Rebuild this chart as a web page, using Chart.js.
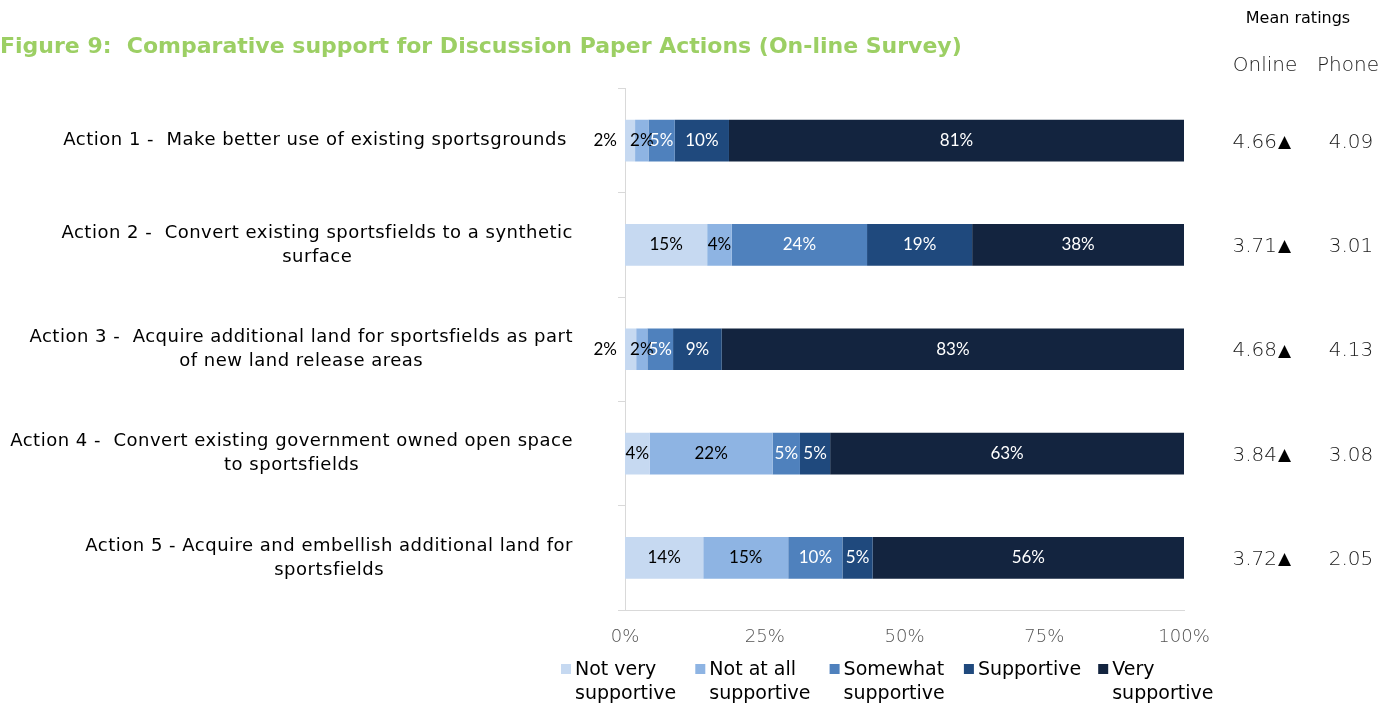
<!DOCTYPE html>
<html><head><meta charset="utf-8">
<script src="https://cdn.jsdelivr.net/npm/chart.js@4.4.0/dist/chart.umd.min.js"></script>
<style>html,body{margin:0;padding:0;background:#fff;overflow:hidden}#wrap{position:relative;width:1395px;height:706px}</style>
</head><body><div id="wrap"><canvas id="c" width="1395" height="706"></canvas></div>
<script>
const categories = [
  ['Action 1 -  Make better use of existing sportsgrounds '],
  ['Action 2 -  Convert existing sportsfields to a synthetic', 'surface'],
  ['Action 3 -  Acquire additional land for sportsfields as part', 'of new land release areas'],
  ['Action 4 -  Convert existing government owned open space', 'to sportsfields'],
  ['Action 5 - Acquire and embellish additional land for', 'sportsfields']
];
const seriesNames = [['Not very', 'supportive'], ['Not at all', 'supportive'], ['Somewhat', 'supportive'], ['Supportive'], ['Very', 'supportive']];
const notVery = [1.8, 14.7, 2.0, 4.4, 14.0];
const notAtAll = [2.4, 4.4, 2.0, 22.0, 15.2];
const somewhat = [4.7, 24.2, 4.6, 4.9, 9.7];
const supportive = [9.7, 18.8, 8.7, 5.4, 5.4];
const verySupportive = [81.4, 37.9, 82.7, 63.3, 55.7];
const xTicks = [0, 25, 50, 75, 100];
const meanOnline = ['4.66', '3.71', '4.68', '3.84', '3.72'];
const meanPhone = ['4.09', '3.01', '4.13', '3.08', '2.05'];
const titleText = 'Figure 9:  Comparative support for Discussion Paper Actions (On-line Survey)';

const colors = ['#c6d9f1', '#8eb4e3', '#4f81bd', '#1f497d', '#13243f'];
const labelColors = ['#000', '#000', '#fff', '#fff', '#fff'];
const seriesData = [notVery, notAtAll, somewhat, supportive, verySupportive];

const SANS = '"DejaVu Sans", sans-serif';
const LIGHT = '200 20px "DejaVu Sans", sans-serif';

const decor = {
  id: 'decor',
  afterDraw(chart) {
    const ctx = chart.ctx;
    const y = chart.scales.y;
    ctx.save();
    // title
    ctx.fillStyle = '#9ccf64';
    ctx.font = 'bold 22px ' + SANS;
    ctx.textAlign = 'left';
    ctx.textBaseline = 'middle';
    ctx.fillText(titleText, 0, 47);
    // category labels
    ctx.fillStyle = '#000';
    ctx.font = '18px ' + SANS;
    try { ctx.letterSpacing = '0.5px'; } catch (e) {}
    categories.forEach((lines, i) => {
      const cy = y.getPixelForValue(i);
      const lh = 24;
      const widths = lines.map(l => ctx.measureText(l).width);
      const maxW = Math.max(...widths);
      const right = 573;
      const cx = right - maxW / 2;
      ctx.textAlign = 'center';
      lines.forEach((l, k) => {
        const ly = cy + (k - (lines.length - 1) / 2) * lh;
        ctx.fillText(l, cx, ly);
      });
    });
    try { ctx.letterSpacing = '0px'; } catch (e) {}
    // mean ratings
    ctx.textAlign = 'center';
    ctx.fillStyle = '#000';
    ctx.font = '16px ' + SANS;
    ctx.fillText('Mean ratings', 1298, 19);
    ctx.fillStyle = '#1a1a1a';
    ctx.font = LIGHT;
    ctx.fillText('Online', 1265, 66);
    ctx.fillText('Phone', 1348, 66);
    meanOnline.forEach((v, i) => {
      const cy = y.getPixelForValue(i) + 2;
      ctx.fillStyle = '#1a1a1a';
      ctx.font = LIGHT;
      ctx.textAlign = 'right';
      ctx.fillText(v, 1277, cy);
      ctx.fillStyle = '#000';
      ctx.font = '17px ' + SANS;
      ctx.textAlign = 'left';
      ctx.fillText('\u25B2', 1278, cy);
      ctx.fillStyle = '#1a1a1a';
      ctx.font = LIGHT;
      ctx.textAlign = 'center';
      ctx.fillText(meanPhone[i], 1351, cy);
    });
    // legend
    ctx.font = '19px ' + SANS;
    ctx.textAlign = 'left';
    seriesNames.forEach((lines, i) => {
      const x0 = 561 + i * 134.3;
      ctx.fillStyle = colors[i];
      ctx.fillRect(x0, 664, 10, 10);
      ctx.fillStyle = '#000';
      lines.forEach((l, k) => ctx.fillText(l, x0 + 14, 670 + k * 24));
    });
    // value labels
    ctx.font = '17px Lato, sans-serif';
    ctx.textBaseline = 'middle';
    chart.data.datasets.forEach((ds, di) => {
      const meta = chart.getDatasetMeta(di);
      meta.data.forEach((bar, i) => {
        const v = ds.data[i];
        const txt = Math.round(v) + '%';
        if (di === 0 && v < 3) {
          ctx.fillStyle = '#000';
          ctx.textAlign = 'right';
          ctx.fillText(txt, bar.base - 8, bar.y);
        } else {
          ctx.fillStyle = labelColors[di];
          ctx.textAlign = 'center';
          ctx.fillText(txt, (bar.x + bar.base) / 2, bar.y);
        }
      });
    });
    ctx.restore();
  }
};

new Chart(document.getElementById('c'), {
  type: 'bar',
  data: {
    labels: categories.map(c => c.join(' ')),
    datasets: seriesData.map((d, i) => ({
      label: seriesNames[i].join(' '),
      data: d,
      backgroundColor: colors[i],
      borderWidth: 0,
      categoryPercentage: 1,
      barPercentage: 0.4
    }))
  },
  options: {
    indexAxis: 'y',
    responsive: false,
    animation: false,
    events: [],
    layout: { padding: { top: 88.5, right: 211, left: 0, bottom: 0 } },
    plugins: { legend: { display: false }, title: { display: false }, tooltip: { enabled: false } },
    scales: {
      x: {
        stacked: true, min: 0, max: 100,
        afterBuildTicks(s) { s.ticks = xTicks.map(v => ({ value: v })); },
        afterFit(s) { s.height = 96; },
        grid: { display: false, drawTicks: false },
        border: { display: true, color: '#d9d9d9', width: 1 },
        ticks: { padding: 17, color: '#555555', font: { size: 18, family: '"DejaVu Sans"', weight: '200' }, callback: v => v + '%' }
      },
      y: {
        stacked: true,
        afterFit(s) { s.width = 625; },
        grid: { drawOnChartArea: false, drawTicks: true, tickLength: 7, color: '#d9d9d9', offset: true },
        border: { display: true, color: '#d9d9d9' },
        ticks: { display: false }
      }
    }
  },
  plugins: [decor]
});
</script>
</body></html>
